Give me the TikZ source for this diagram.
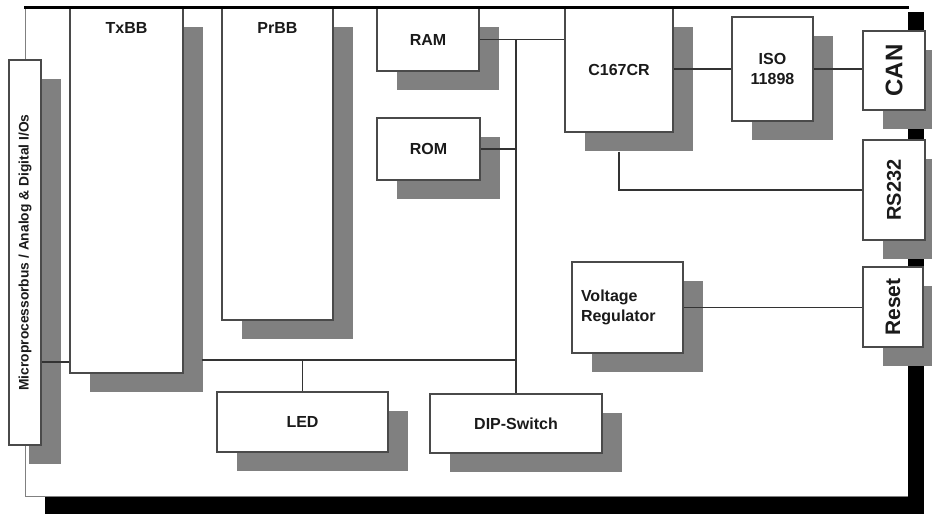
\documentclass[tikz,border=0pt]{standalone}
\usepackage{fontspec}
\usepackage{graphicx}
\setmainfont{Liberation Sans}
\usetikzlibrary{shadows}
\definecolor{shadowgray}{HTML}{808080}
\definecolor{boxline}{HTML}{4A4A4A}
\definecolor{txt}{HTML}{1A1A1A}
\definecolor{wirec}{HTML}{333333}
\begin{document}
\begin{tikzpicture}[x=1pt,y=-1pt,
  blk/.style={draw=boxline, line width=1.3pt, fill=white, rectangle, inner sep=0pt,
    text=txt, font=\fontsize{16}{20}\selectfont\bfseries, align=center,
    drop shadow={shadow xshift=20pt, shadow yshift=-19pt, fill=shadowgray, opacity=1, draw=none}},
  lbl/.style={text=txt, font=\fontsize{16}{20}\selectfont\bfseries, inner sep=0pt},
  wire/.style={draw=wirec, line width=1.2pt}]
\useasboundingbox (0,0) rectangle (932,514);
% board
\fill[black] (45,12) rectangle (924,514);
\fill[white] (24,8) rectangle (908,496);
\draw[gray, line width=0.8pt] (25,8) -- (25,496) -- (908,496);
% boxes
\node[blk, minimum width=32pt, minimum height=385pt] (micro) at (25,252.5)
  {\rotatebox{90}{\fontsize{13.8}{16}\selectfont\bfseries Microprocessorbus / Analog \& Digital I/Os}};
\node[blk, minimum width=113pt, minimum height=365pt] (txbb) at (126.5,190.5) {};
\node[blk, minimum width=111pt, minimum height=312pt] (prbb) at (277.5,164) {};
\node[blk, minimum width=102pt, minimum height=63pt] (ram) at (428,39.5) {RAM};
\node[blk, minimum width=103pt, minimum height=62pt] (rom) at (428.5,149) {ROM};
\node[blk, minimum width=108pt, minimum height=124pt] (c167) at (619,70) {C167CR};
\node[blk, minimum width=81pt, minimum height=104pt] (iso) at (772.5,69) {ISO\\11898};
\node[blk, minimum width=62pt, minimum height=79pt] (can) at (894,70.5)
  {\rotatebox{90}{\fontsize{24}{28}\selectfont\bfseries CAN}};
\node[blk, minimum width=62pt, minimum height=100pt] (rs232) at (894,190)
  {\rotatebox{90}{\fontsize{20}{24}\selectfont\bfseries RS232}};
\node[blk, minimum width=60pt, minimum height=80pt] (reset) at (893,307)
  {\rotatebox{90}{\fontsize{21}{25}\selectfont\bfseries Reset}};
\node[blk, text width=93pt, inner xsep=9pt, align=left, minimum height=91pt] (vreg) at (627.5,307.5)
  {Voltage\\Regulator};
\node[blk, minimum width=171pt, minimum height=60pt] (led) at (302.5,422) {LED};
\node[blk, minimum width=172pt, minimum height=59pt] (dip) at (516,423.5) {DIP-Switch};
% top labels
\node[lbl] (txbbl) at ([yshift=-21pt]txbb.north) {TxBB};
\node[lbl] (prbbl) at ([yshift=-21pt]prbb.north) {PrBB};
% board top edge
\draw[black, line width=2.2pt] (24,7.5) -- (909,7.5);
% connectors
\coordinate (hy) at (0,360);
\coordinate (my) at (0,362);
\draw[wire] (micro.east |- my) -- (txbb.west |- my);
\draw[wire] ([xshift=18pt]txbb.east |- hy) -- (dip.north |- hy);
\draw[wire] (led.north) -- (led.north |- hy);
\draw[wire] (ram.east) -- (c167.west |- ram.east);
\draw[wire] (dip.north) -- (dip.north |- ram.east);
\draw[wire] (rom.east) -- (rom.east -| dip.north);
\draw[wire] (c167.east |- iso.west) -- (iso.west);
\draw[wire] (iso.east) -- (can.west |- iso.east);
\draw[wire] ([yshift=-19pt]c167.south) -- (c167.south |- rs232.west) -- (rs232.west);
\draw[wire] (vreg.east) -- (reset.west |- vreg.east);
\end{tikzpicture}
\end{document}
